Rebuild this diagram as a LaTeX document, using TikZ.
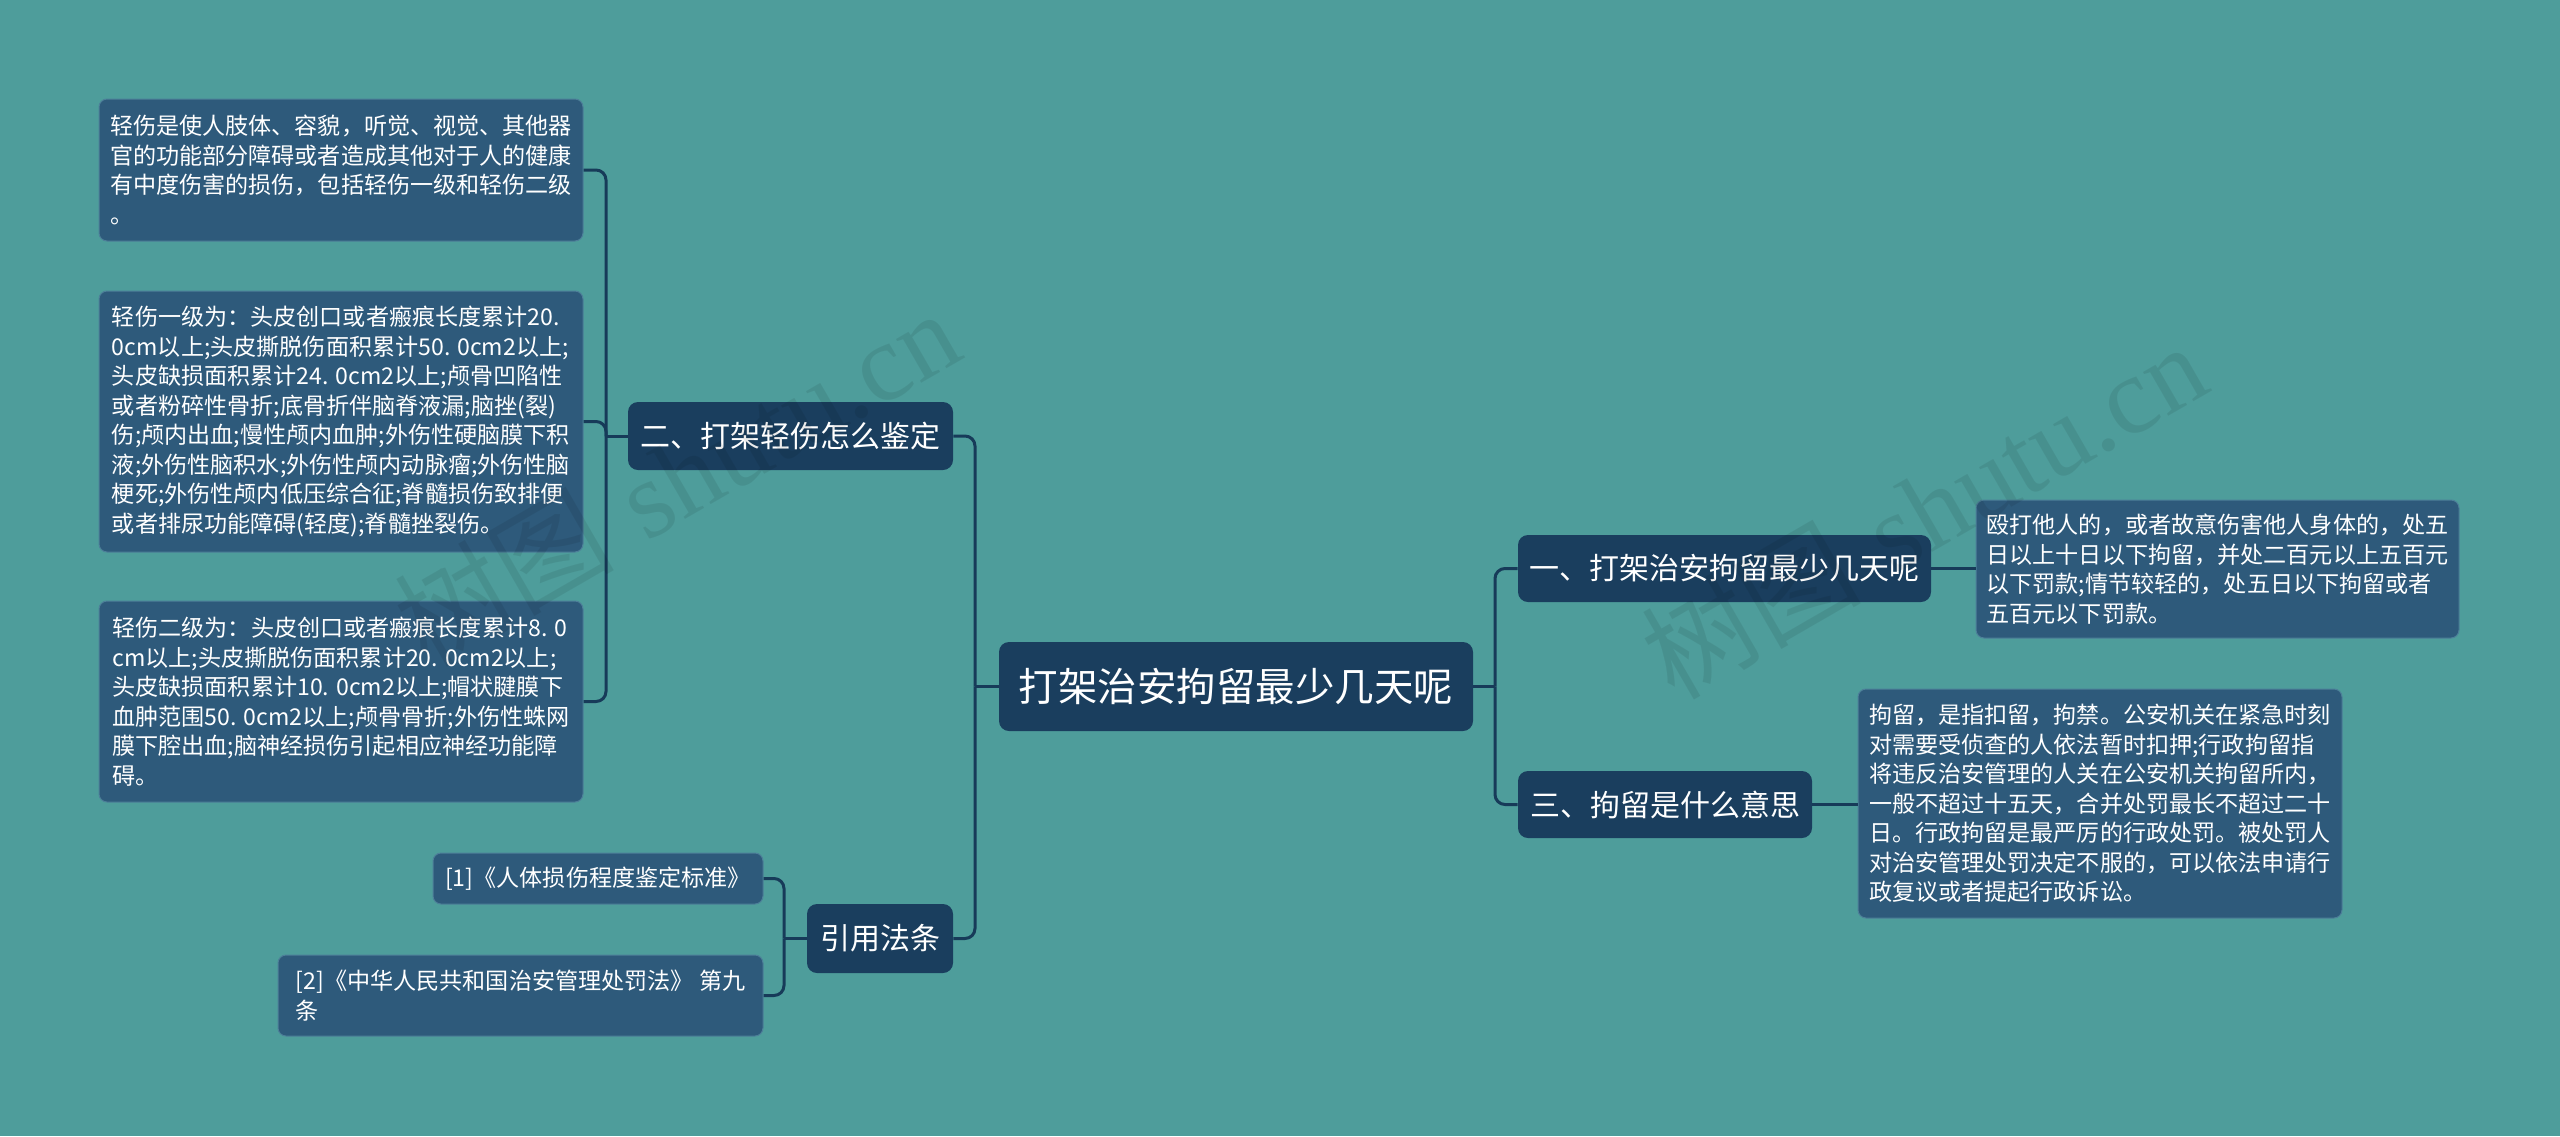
\documentclass[tikz,border=0pt]{standalone}
\usepackage{fontspec}
\newfontfamily\cjk{Noto Sans CJK SC}
\newfontfamily\wmserif{Liberation Serif}
\definecolor{bgc}{HTML}{4E9D9B}
\definecolor{mainc}{HTML}{1A3E5E}
\definecolor{leafc}{HTML}{2E5A7B}
\definecolor{leafb}{HTML}{4D7F99}
\definecolor{linec}{HTML}{173B59}
\begin{document}
\begin{tikzpicture}[x=0.5pt,y=-0.5pt,
  mainbox/.style={fill=mainc, rounded corners=5pt, text=white, inner sep=0pt,
    font=\cjk\fontsize{15}{18}\selectfont},
  leafbox/.style={fill=leafc, draw=leafb, line width=0.5pt, rounded corners=4pt, text=white,
    inner sep=0pt, align=left, font=\cjk\fontsize{11.55}{14.75}\selectfont},
  conn/.style={draw=linec, line width=1.5pt},
  elbow/.style={conn, rounded corners=5pt},
  wmark/.style={black, opacity=0.08, font=\fontsize{55}{60}\selectfont, rotate=30}]
\fill[bgc] (0,0) rectangle (2560,1136);
\useasboundingbox (0,0) rectangle (2560,1136);

% central
\node[mainbox, minimum width=237pt, minimum height=44.5pt, font=\cjk\fontsize{19.75}{23}\selectfont] (c) at (1236,686.5) {打架治安拘留最少几天呢};

% level 1
\node[mainbox, minimum width=162.5pt, minimum height=34pt] (n2) at (790.5,436) {二、打架轻伤怎么鉴定};
\node[mainbox, minimum width=73pt, minimum height=34.5pt] (ref) at (880,938.5) {引用法条};
\node[mainbox, minimum width=206.5pt, minimum height=33.5pt] (n1) at (1724.5,568.5) {一、打架治安拘留最少几天呢};
\node[mainbox, minimum width=147pt, minimum height=33.5pt] (n3) at (1665,804.5) {三、拘留是什么意思};

% leaves of n2
\node[leafbox, minimum width=242pt, minimum height=71pt] (l1) at (341,170) {轻伤是使人肢体、容貌，听觉、视觉、其他器\\官的功能部分障碍或者造成其他对于人的健康\\有中度伤害的损伤，包括轻伤一级和轻伤二级\\。};
\node[leafbox, minimum width=242pt, minimum height=130.5pt] (l2) at (341,421.5) {轻伤一级为：头皮创口或者瘢痕长度累计20.\\0cm以上;头皮撕脱伤面积累计50. 0cm2以上;\\头皮缺损面积累计24. 0cm2以上;颅骨凹陷性\\或者粉碎性骨折;底骨折伴脑脊液漏;脑挫(裂)\\伤;颅内出血;慢性颅内血肿;外伤性硬脑膜下积\\液;外伤性脑积水;外伤性颅内动脉瘤;外伤性脑\\梗死;外伤性颅内低压综合征;脊髓损伤致排便\\或者排尿功能障碍(轻度);脊髓挫裂伤。};
\node[leafbox, minimum width=242pt, minimum height=100.5pt] (l3) at (341,701.5) {轻伤二级为：头皮创口或者瘢痕长度累计8. 0\\cm以上;头皮撕脱伤面积累计20. 0cm2以上;\\头皮缺损面积累计10. 0cm2以上;帽状腱膜下\\血肿范围50. 0cm2以上;颅骨骨折;外伤性蛛网\\膜下腔出血;脑神经损伤引起相应神经功能障\\碍。};

% references
\node[leafbox, minimum width=165pt, minimum height=25.5pt] (r1) at (598,878.5) {[1]《人体损伤程度鉴定标准》};
\node[leafbox, minimum width=242.5pt, minimum height=40.5pt] (r2) at (520.5,995.5) {[2]《中华人民共和国治安管理处罚法》 第九\\条};

% right leaves
\node[leafbox, minimum width=241.5pt, minimum height=69pt] (rl1) at (2217.5,569) {殴打他人的，或者故意伤害他人身体的，处五\\日以上十日以下拘留，并处二百元以上五百元\\以下罚款;情节较轻的，处五日以下拘留或者\\五百元以下罚款。};
\node[leafbox, minimum width=242pt, minimum height=114.5pt] (rl2) at (2100,803.5) {拘留，是指扣留，拘禁。公安机关在紧急时刻\\对需要受侦查的人依法暂时扣押;行政拘留指\\将违反治安管理的人关在公安机关拘留所内，\\一般不超过十五天，合并处罚最长不超过二十\\日。行政拘留是最严厉的行政处罚。被处罚人\\对治安管理处罚决定不服的，可以依法申请行\\政复议或者提起行政诉讼。};

% connectors
\coordinate (bl) at (975,686.5);
\coordinate (br) at (1495,686.5);
\coordinate (b2) at (606,436);
\coordinate (b3) at (784,938.5);
\draw[conn] (c.west) -- (bl);
\draw[elbow] (bl) |- (n2.east);
\draw[elbow] (bl) |- (ref.east);
\draw[conn] (c.east) -- (br);
\draw[elbow] (br) |- (n1.west);
\draw[elbow] (br) |- (n3.west);
\draw[conn] (n1.east) -- (rl1.west |- n1.east);
\draw[conn] (n3.east) -- (rl2.west |- n3.east);
\draw[conn] (n2.west) -- (b2);
\draw[elbow] (b2) |- (l1.east);
\draw[elbow] (b2) |- (l2.east);
\draw[elbow] (b2) |- (l3.east);
\draw[conn] (ref.west) -- (b3);
\draw[elbow] (b3) |- (r1.east);
\draw[elbow] (b3) |- (r2.east);

% watermarks
\node[wmark] (wm1) at (676,477) {{\cjk 树图} {\wmserif shutu.cn}};
\node[wmark] (wm2) at (1923,510) {{\cjk 树图} {\wmserif shutu.cn}};
\end{tikzpicture}
\end{document}
